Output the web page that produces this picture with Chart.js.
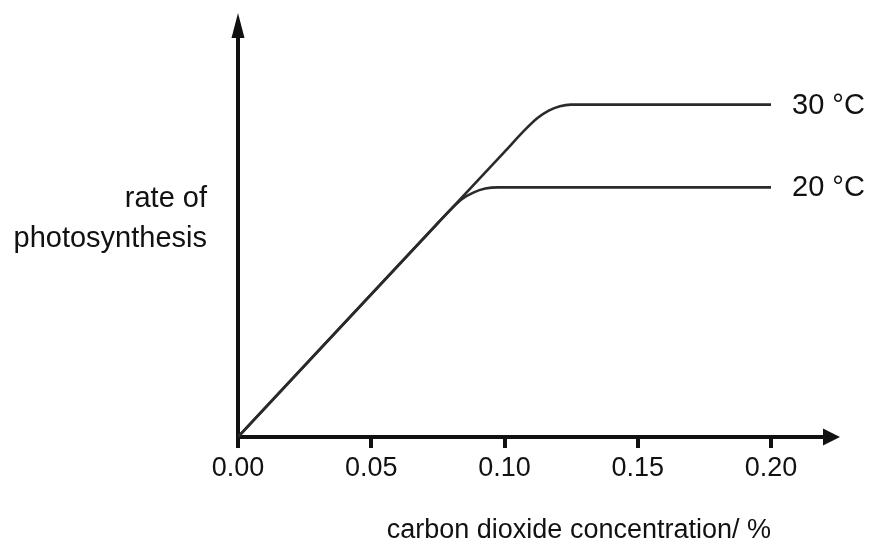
<!DOCTYPE html>
<html>
<head>
<meta charset="utf-8">
<script src="https://cdn.jsdelivr.net/npm/chart.js@4"></script>
<style>
  html, body { margin: 0; padding: 0; background: #ffffff; }
  #wrap { width: 869px; height: 549px; }
</style>
</head>
<body>
<div id="wrap"><canvas id="c" width="869" height="549"></canvas></div>
<script>
// ---- data ----
const co2_30 = [0, 0.1, 0.1083, 0.1125, 0.1166, 0.1208, 0.1249, 0.2];
const rate_30 = [0, 71.3, 77.2, 79.8, 81.6, 82.7, 83.1, 83.1];
const co2_20 = [0, 0.075, 0.0803, 0.0841, 0.0883, 0.0928, 0.0976, 0.2];
const rate_20 = [0, 53.5, 57.2, 59.5, 61.1, 62.1, 62.4, 62.4];
const seriesLabels = ['30 °C', '20 °C'];
const xTickLabels = ['0.00', '0.05', '0.10', '0.15', '0.20'];
const xTitle = 'carbon dioxide concentration/ %';
const yTitleLines = ['rate of', 'photosynthesis'];

const FONT = '"Liberation Sans", Arial, Helvetica, sans-serif';
const INK = '#111111';
const LINE = '#2a2a2a';

const toPts = (xs, ys) => xs.map((v, i) => ({x: v, y: ys[i]}));

const annot = {
  id: 'annot',
  afterDraw(chart) {
    const {ctx, chartArea: a, scales: {x, y}} = chart;
    ctx.save();
    ctx.fillStyle = INK;
    ctx.strokeStyle = INK;
    const y0 = Math.round(y.getPixelForValue(0));
    const x0 = Math.round(x.getPixelForValue(0));
    // x axis extension and arrow
    ctx.lineWidth = 4;
    ctx.beginPath();
    ctx.moveTo(a.right - 2, y0);
    ctx.lineTo(a.right + 54, y0);
    ctx.stroke();
    ctx.beginPath();
    ctx.moveTo(a.right + 52, y0 - 8.5);
    ctx.lineTo(a.right + 69, y0);
    ctx.lineTo(a.right + 52, y0 + 8.5);
    ctx.closePath();
    ctx.fill();
    // y axis arrow
    ctx.beginPath();
    ctx.moveTo(x0 - 6.5, a.top + 1);
    ctx.lineTo(x0, a.top - 24);
    ctx.lineTo(x0 + 6.5, a.top + 1);
    ctx.closePath();
    ctx.fill();
    // series end labels
    ctx.font = '29px ' + FONT;
    ctx.textAlign = 'left';
    ctx.textBaseline = 'middle';
    const ends = [[co2_30, rate_30], [co2_20, rate_20]];
    ends.forEach((s, i) => {
      const xs = s[0], ys = s[1];
      const px = x.getPixelForValue(xs[xs.length - 1]) + 21;
      const py = y.getPixelForValue(ys[ys.length - 1]) + 1;
      ctx.fillText(seriesLabels[i], px, py);
    });
    // y axis label (horizontal, two lines, right aligned)
    ctx.font = '29px ' + FONT;
    ctx.textAlign = 'right';
    ctx.textBaseline = 'alphabetic';
    ctx.fillText(yTitleLines[0], a.left - 31, a.top + 170);
    ctx.fillText(yTitleLines[1], a.left - 31, a.top + 210);
    ctx.restore();
  }
};

new Chart(document.getElementById('c'), {
  type: 'line',
  data: {
    datasets: [
      {
        label: seriesLabels[0],
        data: toPts(co2_30, rate_30),
        borderColor: LINE,
        borderWidth: 2.6,
        pointRadius: 0,
        fill: false,
        cubicInterpolationMode: 'monotone'
      },
      {
        label: seriesLabels[1],
        data: toPts(co2_20, rate_20),
        borderColor: LINE,
        borderWidth: 2.6,
        pointRadius: 0,
        fill: false,
        cubicInterpolationMode: 'monotone'
      }
    ]
  },
  options: {
    responsive: false,
    animation: false,
    devicePixelRatio: 1,
    layout: { padding: { left: 238, right: 98, top: 37, bottom: 0 } },
    plugins: { legend: { display: false }, tooltip: { enabled: false } },
    scales: {
      x: {
        type: 'linear',
        min: 0,
        max: 0.2,
        grid: {
          display: true,
          drawOnChartArea: false,
          drawTicks: true,
          tickLength: 11,
          lineWidth: 4,
          color: INK
        },
        border: { display: true, width: 4, color: INK },
        ticks: {
          stepSize: 0.05,
          padding: 4,
          color: INK,
          font: { family: FONT, size: 27 },
          maxRotation: 0,
          autoSkip: false,
          callback: (v, i) => xTickLabels[i]
        },
        title: {
          display: true,
          text: xTitle,
          align: 'end',
          color: INK,
          font: { family: FONT, size: 27, lineHeight: 1 },
          padding: { top: 28.6, bottom: 5 }
        }
      },
      y: {
        type: 'linear',
        min: 0,
        max: 100,
        grid: { display: false, drawTicks: false, tickLength: 0 },
        border: { display: true, width: 4, color: INK },
        ticks: { display: false }
      }
    }
  },
  plugins: [annot]
});
</script>
</body>
</html>
